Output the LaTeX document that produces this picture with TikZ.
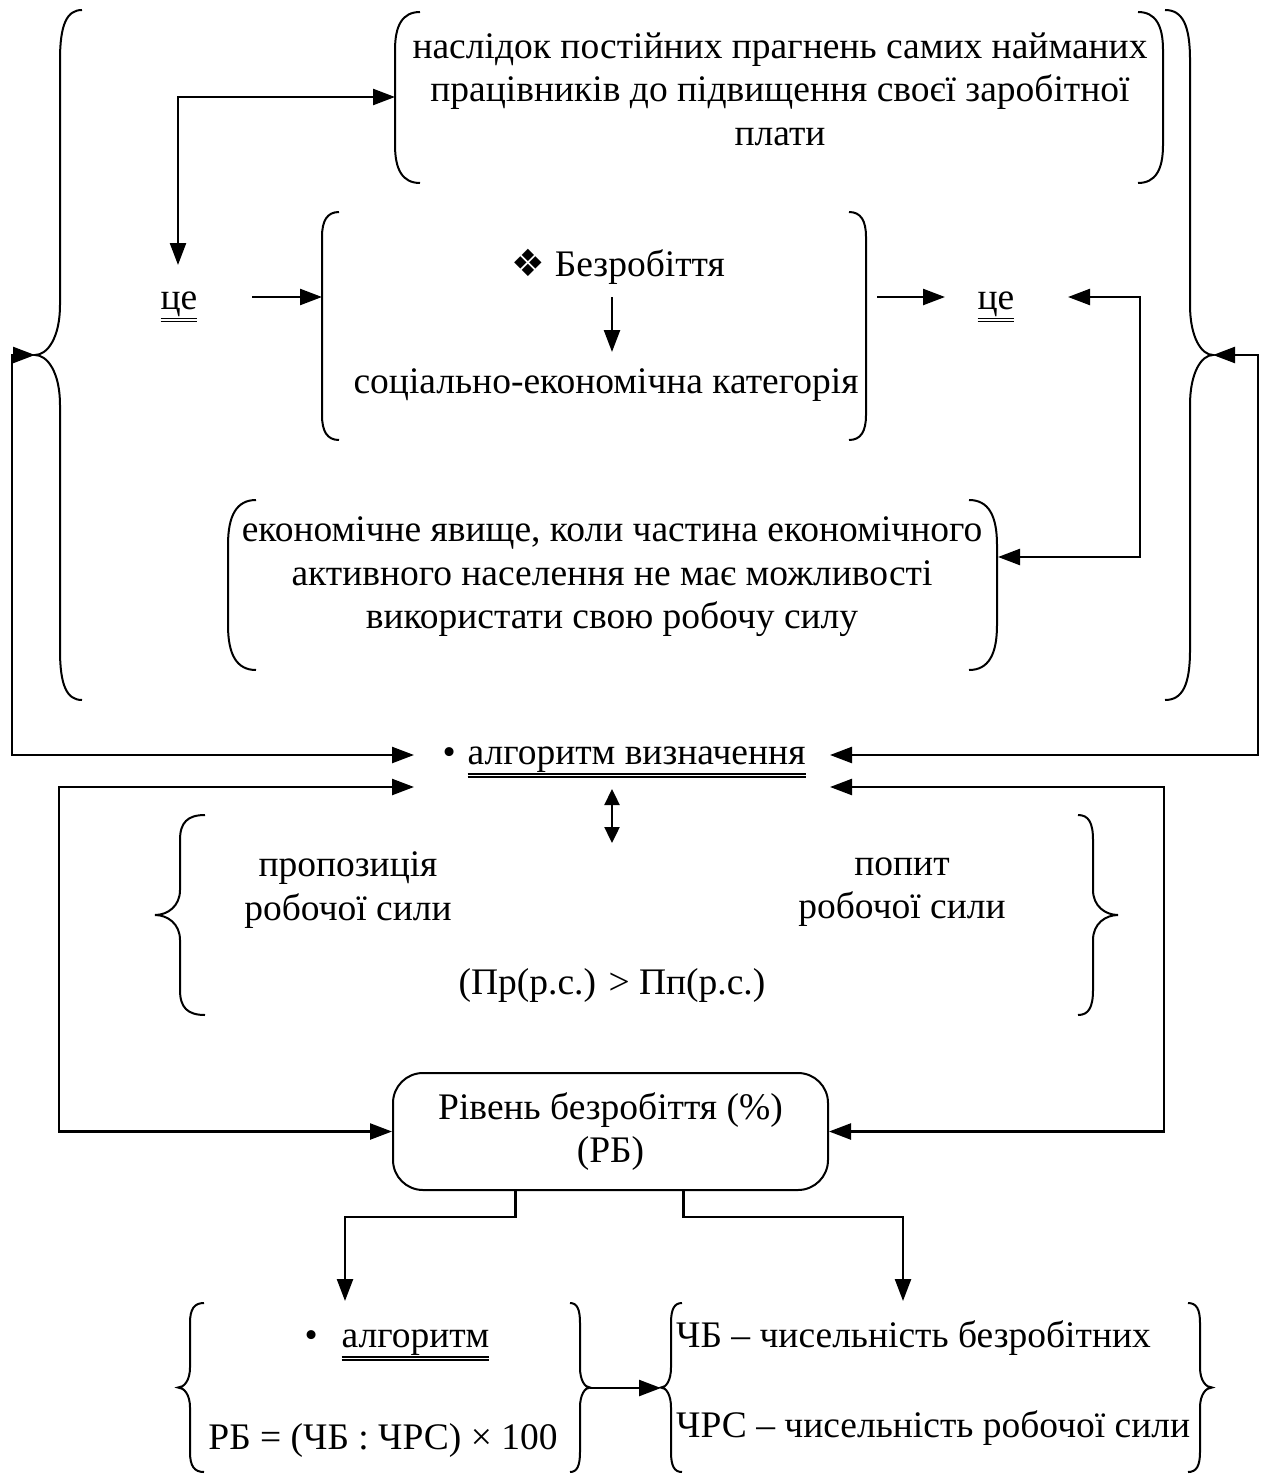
\documentclass[tikz,border=0pt]{standalone}
\usepackage{fontspec}
\setmainfont{Liberation Serif}
\newfontfamily\symfont{DejaVu Sans}
\usetikzlibrary{arrows.meta}
\newcommand{\dul}[1]{\vtop{\hbox{#1}\kern1.5pt\hrule height 1.3pt\kern1.6pt\hrule height 1.3pt}}
\newcommand{\brc}[6]{%
 \draw[bline] ({#1+#5},#3) .. controls ({#1+0.3*#5},#3) and (#1,{#3+0.3*#6}) .. (#1,{#3+#6})
 -- (#1,{(#3+#4)/2-#6}) .. controls (#1,{(#3+#4)/2-0.35*#6}) and ({(#1+#2)/2},{(#3+#4)/2}) .. (#2,{(#3+#4)/2})
 .. controls ({(#1+#2)/2},{(#3+#4)/2}) and (#1,{(#3+#4)/2+0.35*#6}) .. (#1,{(#3+#4)/2+#6})
 -- (#1,{#4-#6}) .. controls (#1,{#4-0.3*#6}) and ({#1+0.3*#5},#4) .. ({#1+#5},#4);}
\newcommand{\prn}[6]{%
 \draw[bline] ({#1+#5},#3) .. controls ({#1+0.3*#5},#3) and (#1,{#3+0.35*#6}) .. (#1,{#3+#6})
 -- (#1,{#4-#6}) .. controls (#1,{#4-0.35*#6}) and ({#1+0.3*#5},#4) .. ({#1+#5},#4);
 \draw[bline] ({#2-#5},#3) .. controls ({#2-0.3*#5},#3) and (#2,{#3+0.35*#6}) .. (#2,{#3+#6})
 -- (#2,{#4-#6}) .. controls (#2,{#4-0.35*#6}) and ({#2-0.3*#5},#4) .. ({#2-#5},#4);}
\begin{document}
\begin{tikzpicture}[x=1pt,y=-1pt,
  every node/.style={font=\fontsize{37.5}{43.5}\selectfont, inner sep=0pt, align=center},
  bline/.style={line width=2pt},
  conn/.style={line width=2.4pt, -{Triangle[length=22pt,width=16pt]}},
  both/.style={line width=2.4pt, {Triangle[length=22pt,width=16pt]}-{Triangle[length=22pt,width=16pt]}},
  bothsmall/.style={line width=2.4pt, {Triangle[length=16pt,width=15pt]}-{Triangle[length=16pt,width=15pt]}}]
\useasboundingbox (0,0) rectangle (1269,1474);
% texts
\node (t1) at (780,89) {наслідок постійних прагнень самих найманих\\працівників до підвищення своєї заробітної\\плати};
\node (ce1) at (179,307) {\dul{це}};
\node (bez) at (618,267) {{\symfont ❖}\hspace{10pt}Безробіття};
\node (sek) at (606,385) {соціально-економічна категорія};
\node (ce2) at (996,307) {\dul{це}};
\node (ek) at (612,577) {економічне явище, коли частина економічного\\активного населення не має можливості\\використати свою робочу силу};
\node (alg) at (624,762) {•\hspace{12pt}\dul{алгоритм визначення}};
\node (prop) at (348,890) {пропозиція\\робочої сили};
\node (pop) at (902,892) {попит\\робочої сили};
\node (ineq) at (612,985) {(Пр(р.с.) > Пп(р.с.)};
\node[draw, line width=2pt, rounded corners=30pt, minimum width=435pt, minimum height=117pt] (rb) at (610.5,1131.5) {Рівень безробіття (\%)\\(РБ)};
\node (alg2) at (397,1345) {•\hspace{24pt}\dul{алгоритм}};
\node (form) at (383,1440) {РБ = (ЧБ : ЧРС) × 100};
\node[anchor=west] (chb) at (676,1338) {ЧБ – чисельність безробітних};
\node[anchor=west] (chrs) at (676,1428) {ЧРС – чисельність робочої сили};
% braces and brackets
\brc{60}{35}{10}{700}{22}{50}
\brc{1190}{1213}{10}{700}{-25}{50}
\brc{180}{155}{815}{1015}{25}{25}
\brc{1093}{1118}{815}{1015}{-15}{25}
\brc{190}{178}{1303}{1472}{14}{20}
\brc{580}{590}{1303}{1472}{-10}{20}
\brc{671}{661}{1303}{1472}{11}{20}
\brc{1200}{1212}{1303}{1472}{-12}{20}
\prn{395}{1163}{12}{183}{25}{38}
\prn{322}{866}{212}{440}{17}{25}
\prn{228}{997}{500}{670}{28}{45}
% coordinates
\coordinate (lbt) at (35,355);
\coordinate (rbt) at (1213,355);
\coordinate (algL) at (414,755);
\coordinate (algR) at (830,755);
\coordinate (algL2) at (414,787);
\coordinate (algR2) at (830,787);
\coordinate (tbL) at (395,97);
\coordinate (ce1n) at (178,265);
\coordinate (ce1e) at (252,297);
\coordinate (mbL) at (322,297);
\coordinate (mbR) at (877,297);
\coordinate (ce2w) at (945,297);
\coordinate (ce2e) at (1068,297);
\coordinate (ekR) at (998,557);
\coordinate (bezs) at (612,297);
\coordinate (sekn) at (612,352);
\coordinate (dvt) at (612,789);
\coordinate (dvb) at (612,843);
\coordinate (a2n) at (345,1301);
\coordinate (chn) at (903,1301);
\coordinate (g1t) at (590,1388);
\coordinate (g2t) at (661,1388);
% connectors
\draw[both] (lbt) -- ++(-23,0) |- (algL);
\draw[both] (rbt) -- ++(45,0) |- (algR);
\draw[both] (rb.west) -- ++(-333,0) |- (algL2);
\draw[both] (rb.east) -- ++(335,0) |- (algR2);
\draw[both] (ce1n) |- (tbL);
\draw[conn] (ce1e) -- (mbL);
\draw[conn] (mbR) -- (ce2w);
\draw[both] (ce2e) -- ++(72,0) |- (ekR);
\draw[conn] (bezs) -- (sekn);
\draw[bothsmall] (dvt) -- (dvb);
\draw[conn] ([xshift=-95pt]rb.south) -- ++(0,26) -| (a2n);
\draw[conn] ([xshift=73pt]rb.south) -- ++(0,26) -| (chn);
\draw[conn] (g1t) -- (g2t);
\end{tikzpicture}
\end{document}
